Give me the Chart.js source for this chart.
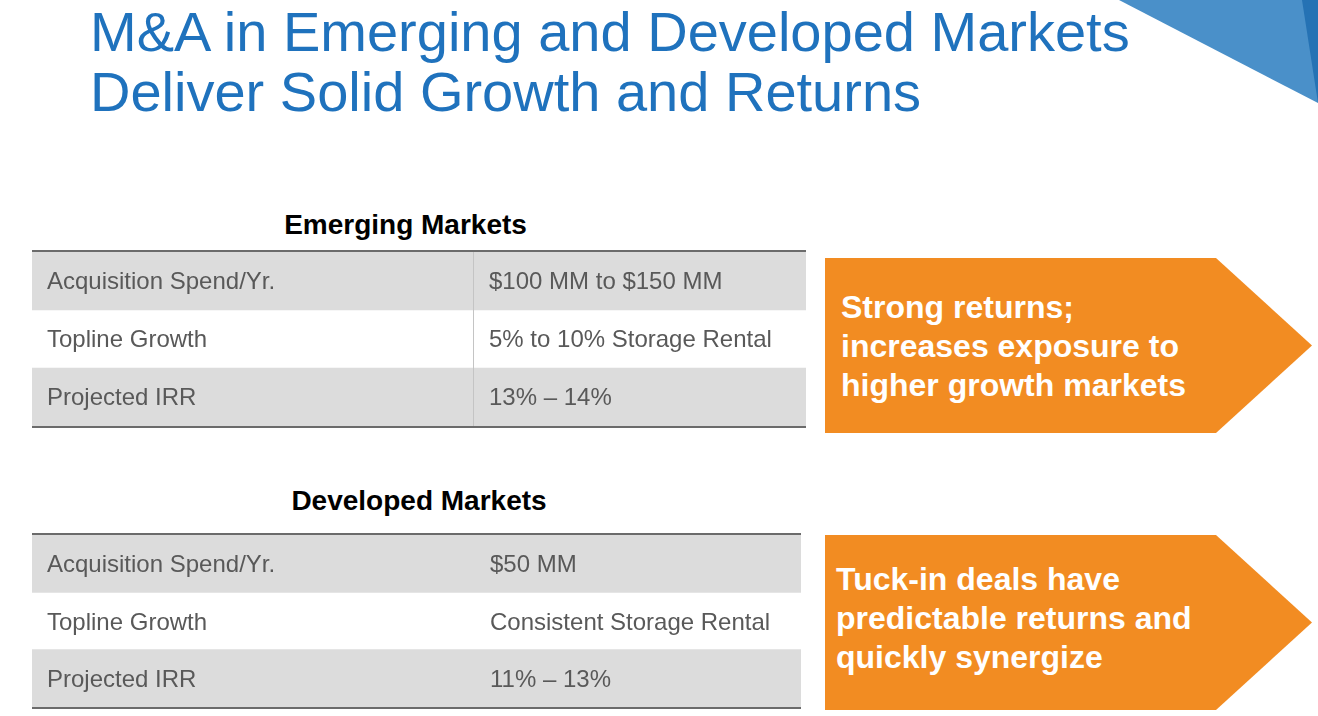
<!DOCTYPE html>
<html>
<head>
<meta charset="utf-8">
<script src="https://cdn.jsdelivr.net/npm/chart.js@4/dist/chart.umd.min.js"></script>
<style>
  html, body { margin:0; padding:0; background:#fff; }
  body { width:1318px; height:716px; position:relative; overflow:hidden; font-family:"Liberation Sans", Arial, sans-serif; }
  .title { position:absolute; left:90px; top:2px; font-size:56px; line-height:60px; color:#1F72BD; white-space:nowrap; }
  .ttitle { position:absolute; text-align:center; font-size:28px; font-weight:bold; line-height:32px; color:#000; white-space:nowrap; }
  .tbl { position:absolute; }
  .arrow { position:absolute; background:#F28C22; color:#fff; font-weight:bold; font-size:32px; line-height:39px; box-sizing:border-box; white-space:nowrap;
           clip-path: polygon(0 0, 391px 0, 487px 50%, 391px 100%, 0 100%); }
  svg.deco { position:absolute; left:0; top:0; }
</style>
</head>
<body>
<svg class="deco" width="1318" height="716">
  <polygon points="1119,0 1318,0 1318,103" fill="#4A90C9"/>
  <polygon points="1302,0 1318,0 1318,103" fill="#2572B4"/>
</svg>
<div class="title">M&amp;A in Emerging and Developed Markets<br>Deliver Solid Growth and Returns</div>

<div class="ttitle" style="left:0;width:811px;top:209px;" id="t1"></div>
<div class="tbl" style="left:32px;top:250px;width:774px;height:178px;"><canvas id="c1" width="774" height="178"></canvas></div>

<div class="ttitle" style="left:0;width:838px;top:485px;" id="t2"></div>
<div class="tbl" style="left:32px;top:533px;width:769px;height:176px;"><canvas id="c2" width="769" height="176"></canvas></div>

<div class="arrow" id="a1" style="left:825px;top:258px;width:487px;height:175px;padding:30px 0 0 16px;"></div>
<div class="arrow" id="a2" style="left:825px;top:535px;width:487px;height:175px;padding:25px 0 0 11px;"></div>

<script>
// ---- data ----
const metrics = ["Acquisition Spend/Yr.", "Topline Growth", "Projected IRR"];
const emergingTitle = "Emerging Markets";
const emergingValues = ["$100 MM to $150 MM", "5% to 10% Storage Rental", "13% \u2013 14%"];
const developedTitle = "Developed Markets";
const developedValues = ["$50 MM", "Consistent Storage Rental", "11% \u2013 13%"];
const emergingNote = ["Strong returns;", "increases exposure to", "higher growth markets"];
const developedNote = ["Tuck-in deals have", "predictable returns and", "quickly synergize"];

document.getElementById('t1').textContent = emergingTitle;
document.getElementById('t2').textContent = developedTitle;
document.getElementById('a1').innerHTML = emergingNote.map(s => s.replace(/&/g,'&amp;')).join('<br>');
document.getElementById('a2').innerHTML = developedNote.map(s => s.replace(/&/g,'&amp;')).join('<br>');

const tablePlugin = {
  id: 'tableText',
  afterDatasetsDraw(chart, args, opts) {
    const ctx = chart.ctx, area = chart.chartArea;
    const xs = chart.scales.x, ys = chart.scales.y;
    const splitX = Math.round(xs.getPixelForValue(opts.split));
    ctx.save();
    if (opts.divider) {
      ctx.strokeStyle = '#C4C4C4'; ctx.lineWidth = 1;
      ctx.beginPath(); ctx.moveTo(splitX + 0.5, area.top); ctx.lineTo(splitX + 0.5, area.bottom); ctx.stroke();
    }
    ctx.strokeStyle = '#6B6B6B'; ctx.lineWidth = 2;
    ctx.beginPath(); ctx.moveTo(area.left, area.top - 1); ctx.lineTo(area.right, area.top - 1); ctx.stroke();
    ctx.beginPath(); ctx.moveTo(area.left, area.bottom + 1); ctx.lineTo(area.right, area.bottom + 1); ctx.stroke();
    ctx.fillStyle = '#595959';
    ctx.font = '24px "Liberation Sans", Arial, sans-serif';
    ctx.textBaseline = 'middle';
    ctx.textAlign = 'left';
    chart.data.labels.forEach((lab, i) => {
      const y = ys.getPixelForValue(i) + opts.dy;
      ctx.fillText(lab, area.left + 15, y);
      ctx.fillText(opts.values[i], splitX + opts.gap, y);
    });
    ctx.restore();
  }
};

function makeTable(id, values, split, divider, gap, dy) {
  new Chart(document.getElementById(id), {
    type: 'bar',
    data: {
      labels: metrics,
      datasets: [{
        data: metrics.map(() => 1),
        backgroundColor: c => (c.dataIndex % 2 === 0 ? '#DCDCDC' : 'rgba(0,0,0,0)'),
        borderWidth: 0,
        barPercentage: 1,
        categoryPercentage: 1
      }]
    },
    options: {
      indexAxis: 'y',
      responsive: false,
      animation: false,
      devicePixelRatio: 1,
      layout: { padding: { top: 2, bottom: 2, left: 0, right: 0 } },
      scales: {
        x: { type: 'linear', min: 0, max: 1, display: false },
        y: { type: 'category', display: false, offset: true }
      },
      plugins: {
        legend: { display: false },
        tooltip: { enabled: false },
        tableText: { values: values, split: split, divider: divider, gap: gap, dy: dy }
      }
    },
    plugins: [tablePlugin]
  });
}

makeTable('c1', emergingValues, 441 / 774, true, 16, 1);
makeTable('c2', developedValues, 442 / 769, false, 16, 2);
</script>
</body>
</html>
